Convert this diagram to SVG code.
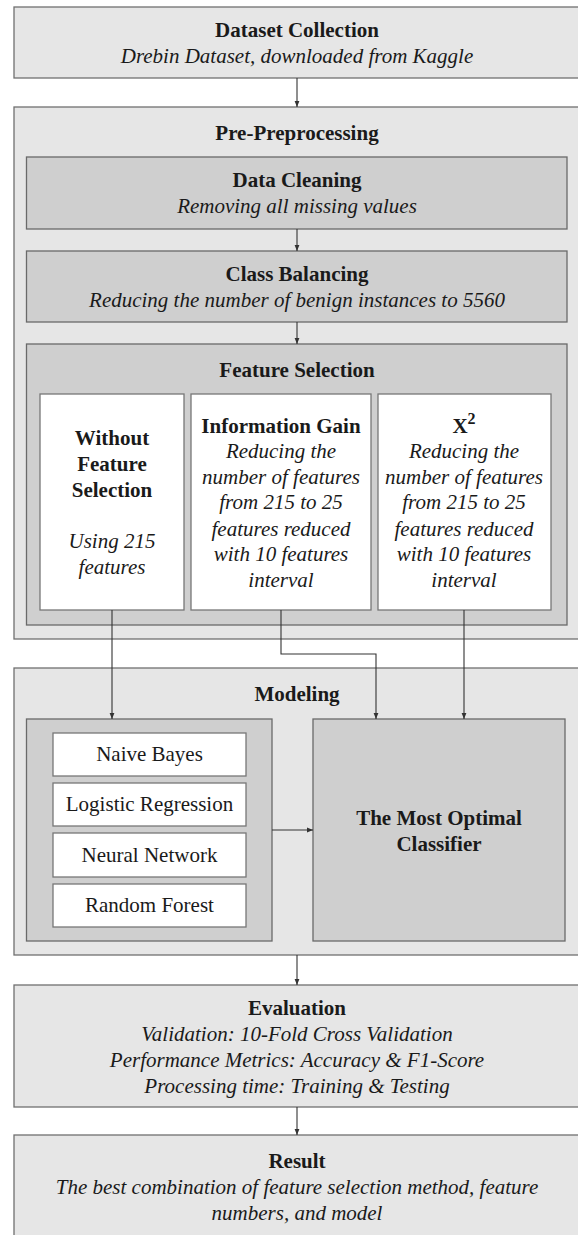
<svg xmlns="http://www.w3.org/2000/svg" width="578" height="1235" viewBox="0 0 578 1235">
<style>
.outer{fill:#e6e6e6;stroke:#707070;stroke-width:1.3}
.inner{fill:#cfcfcf;stroke:#6a6a6a;stroke-width:1.3}
.white{fill:#ffffff;stroke:#777777;stroke-width:1.3}
text{font-family:"Liberation Serif","Times New Roman",serif;font-size:21px;fill:#1a1a1a;text-anchor:middle}
.b{font-weight:bold}
.i{font-style:italic}
.c{fill:none;stroke:#333333;stroke-width:1.1}
</style>
<defs>
<marker id="ah" viewBox="0 0 10 10" refX="10" refY="5" markerWidth="6" markerHeight="6" markerUnits="userSpaceOnUse" orient="auto">
<path d="M0,1 L10,5 L0,9 Z" fill="#333333"/>
</marker>
</defs>
<rect width="578" height="1235" fill="#ffffff"/>

<g id="dataset-collection">
<rect class="outer" x="14" y="7" width="570" height="71"/>
<text class="b" x="297" y="37">Dataset Collection</text>
<text class="i" x="297" y="63">Drebin Dataset, downloaded from Kaggle</text>
</g>

<g id="pre-preprocessing">
<rect class="outer" x="14" y="107" width="570" height="532"/>
<text class="b" x="297" y="140">Pre-Preprocessing</text>
</g>

<g id="data-cleaning">
<rect class="inner" x="26.5" y="157" width="540.5" height="72"/>
<text class="b" x="297" y="187">Data Cleaning</text>
<text class="i" x="297" y="213">Removing all missing values</text>
</g>

<g id="class-balancing">
<rect class="inner" x="26.5" y="251" width="540.5" height="71"/>
<text class="b" x="297" y="281">Class Balancing</text>
<text class="i" x="297" y="307">Reducing the number of benign instances to 5560</text>
</g>

<g id="feature-selection">
<rect class="inner" x="26.5" y="344" width="540.5" height="281"/>
<text class="b" x="297" y="377">Feature Selection</text>
</g>

<g id="without-feature-selection">
<rect class="white" x="40" y="394" width="144" height="216"/>
<text class="b" x="112" y="445">Without</text>
<text class="b" x="112" y="471">Feature</text>
<text class="b" x="112" y="497">Selection</text>
<text class="i" x="112" y="548">Using 215</text>
<text class="i" x="112" y="574">features</text>
</g>

<g id="information-gain">
<rect class="white" x="191" y="394" width="180" height="216"/>
<text class="b" x="281" y="433">Information Gain</text>
<text class="i" x="281" y="458">Reducing the</text>
<text class="i" x="281" y="484">number of features</text>
<text class="i" x="281" y="509">from 215 to 25</text>
<text class="i" x="281" y="536">features reduced</text>
<text class="i" x="281" y="561">with 10 features</text>
<text class="i" x="281" y="587">interval</text>
</g>

<g id="chi-square">
<rect class="white" x="378" y="394" width="173" height="216"/>
<text class="b" x="464" y="433">X<tspan dy="-9" font-size="16">2</tspan></text>
<text class="i" x="464" y="458">Reducing the</text>
<text class="i" x="464" y="484">number of features</text>
<text class="i" x="464" y="509">from 215 to 25</text>
<text class="i" x="464" y="536">features reduced</text>
<text class="i" x="464" y="561">with 10 features</text>
<text class="i" x="464" y="587">interval</text>
</g>

<g id="modeling">
<rect class="outer" x="14" y="668" width="570" height="287"/>
<text class="b" x="297" y="701">Modeling</text>
</g>

<g id="classifiers">
<rect class="inner" x="26.5" y="719" width="245.5" height="222"/>
</g>

<g id="naive-bayes">
<rect class="white" x="53" y="733" width="193" height="43"/>
<text x="149.5" y="761">Naive Bayes</text>
</g>
<g id="logistic-regression">
<rect class="white" x="53" y="783" width="193" height="43"/>
<text x="149.5" y="811">Logistic Regression</text>
</g>
<g id="neural-network">
<rect class="white" x="53" y="833" width="193" height="44"/>
<text x="149.5" y="862">Neural Network</text>
</g>
<g id="random-forest">
<rect class="white" x="53" y="884" width="193" height="43"/>
<text x="149.5" y="912">Random Forest</text>
</g>

<g id="most-optimal-classifier">
<rect class="inner" x="313" y="719" width="252" height="222"/>
<text class="b" x="439" y="825">The Most Optimal</text>
<text class="b" x="439" y="851">Classifier</text>
</g>

<g id="evaluation">
<rect class="outer" x="14" y="985" width="570" height="122"/>
<text class="b" x="297" y="1015">Evaluation</text>
<text class="i" x="297" y="1041">Validation: 10-Fold Cross Validation</text>
<text class="i" x="297" y="1067">Performance Metrics: Accuracy &amp; F1-Score</text>
<text class="i" x="297" y="1093">Processing time: Training &amp; Testing</text>
</g>

<g id="result">
<rect class="outer" x="14" y="1135" width="570" height="110"/>
<text class="b" x="297" y="1168">Result</text>
<text class="i" x="297" y="1194">The best combination of feature selection method, feature</text>
<text class="i" x="297" y="1220">numbers, and model</text>
</g>

<g id="connectors">
<path class="c" d="M297,78 V107" marker-end="url(#ah)"/>
<path class="c" d="M297,229 V251" marker-end="url(#ah)"/>
<path class="c" d="M297,322 V344" marker-end="url(#ah)"/>
<path class="c" d="M112,610 V719" marker-end="url(#ah)"/>
<path class="c" d="M281,610 V654 H376 V719" marker-end="url(#ah)"/>
<path class="c" d="M464,610 V719" marker-end="url(#ah)"/>
<path class="c" d="M272,830 H313" marker-end="url(#ah)"/>
<path class="c" d="M297,955 V985" marker-end="url(#ah)"/>
<path class="c" d="M297,1107 V1135" marker-end="url(#ah)"/>
</g>
</svg>
